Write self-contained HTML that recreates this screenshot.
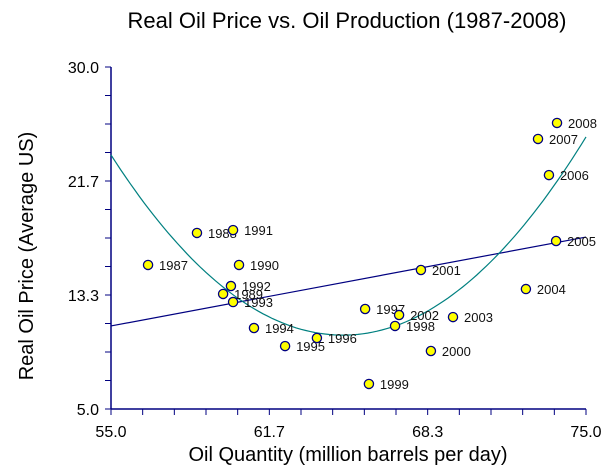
<!DOCTYPE html>
<html><head><meta charset="utf-8"><style>
html,body{margin:0;padding:0;background:#fff;}
svg{display:block;font-family:"Liberation Sans",Arial,sans-serif;}
</style></head><body>
<svg id="chart" width="613" height="476" viewBox="0 0 613 476">
<text x="347" y="28" font-size="22" text-anchor="middle" fill="#000">Real Oil Price vs. Oil Production (1987-2008)</text>
<text transform="translate(33,256) rotate(-90)" font-size="20" text-anchor="middle" fill="#000">Real Oil Price (Average US)</text>
<text x="348" y="461" font-size="20" text-anchor="middle" fill="#000">Oil Quantity (million barrels per day)</text>
<g id="axes"></g>
<g id="fits"></g>
<g id="points"></g>
</svg>
<script>
const years = ["1987","1988","1989","1990","1991","1992","1993","1994","1995","1996","1997","1998","1999","2000","2001","2002","2003","2004","2005","2006","2007","2008"];
const labels = ["1987","1988","1989","1990","1991","1992","1993","1994","1995","1996","1997","1998","1999","2000","2001","2002","2003","2004","2005","2006","2007","2008"];
const quantity = [56.56,58.62,59.72,60.39,60.14,60.05,60.14,61.02,62.33,63.67,65.70,66.96,65.86,68.47,68.05,67.13,69.40,72.47,73.74,73.44,72.98,73.78];
const price = [15.53,17.87,13.41,15.53,18.08,13.99,12.82,10.92,9.60,10.19,12.31,11.07,6.83,9.24,15.16,11.87,11.72,13.77,17.28,22.10,24.74,25.91];
const xTicks = ["55.0","61.7","68.3","75.0"];
const yTicks = ["5.0","13.3","21.7","30.0"];
const linearFit = [11.07,0.325];
const quadFit = [64.76,0.1382,10.4];

const X0=111,X1=586,Y0=409,Y1=67,xmin=55,xmax=75,ymin=5,ymax=30;
const sx=v=>X0+(v-xmin)/(xmax-xmin)*(X1-X0);
const sy=v=>Y0-(v-ymin)/(ymax-ymin)*(Y0-Y1);
const NS="http://www.w3.org/2000/svg";
function mk(tag,attrs,parent){const e=document.createElementNS(NS,tag);for(const k in attrs)e.setAttribute(k,attrs[k]);parent.appendChild(e);return e;}
const axes=document.getElementById('axes');
let a=mk('line',{x1:X0,y1:Y1,x2:X0,y2:Y0,stroke:'#000080','stroke-width':1.5},axes);


a=mk('line',{x1:X0,y1:Y0,x2:X1,y2:Y0,stroke:'#000080','stroke-width':1.5},axes);


for(let i=0;i<=12;i++){const y=Y0-i*(Y0-Y1)/12;
 const t=mk('line',{x1:X0-6,y1:y,x2:X0,y2:y,stroke:'#000080','stroke-width':1},axes);
 
 }
for(let i=0;i<=15;i++){const x=X0+i*(X1-X0)/15;
 const t=mk('line',{x1:x,y1:Y0,x2:x,y2:Y0+6,stroke:'#000080','stroke-width':1},axes);
 
 }
yTicks.forEach((l,i)=>{const v=ymin+i*(ymax-ymin)/3;
 const t=mk('text',{x:X0-12,y:sy(v)+6,'font-size':16,'text-anchor':'end',fill:'#000'},axes);t.textContent=l;
 
 });
xTicks.forEach((l,i)=>{const v=xmin+i*(xmax-xmin)/3;
 const t=mk('text',{x:sx(v),y:Y0+28,'font-size':16,'text-anchor':'middle',fill:'#000'},axes);t.textContent=l;
 
 });
const fits=document.getElementById('fits');
let l=mk('line',{x1:sx(xmin),y1:sy(linearFit[0]),x2:sx(xmax),y2:sy(linearFit[0]+linearFit[1]*(xmax-xmin)),stroke:'#000080','stroke-width':1.2},fits);


let d='';for(let i=0;i<=100;i++){const x=xmin+i*(xmax-xmin)/100;const y=quadFit[1]*(x-quadFit[0])**2+quadFit[2];d+=(i?'L':'M')+sx(x).toFixed(1)+','+sy(y).toFixed(1);}
l=mk('path',{d:d,fill:'none',stroke:'#008080','stroke-width':1.2},fits);


const pts=document.getElementById('points');
years.forEach((yr,i)=>{const cx=sx(quantity[i]),cy=sy(price[i]);
 const c=mk('circle',{cx:cx,cy:cy,r:4.6,fill:'#ffff00',stroke:'#000080','stroke-width':1.3},pts);
 
 
 const t=mk('text',{x:cx+11,y:cy+5,'font-size':13,fill:'#111'},pts);t.textContent=labels[i];
 
 });
</script>
</body></html>
